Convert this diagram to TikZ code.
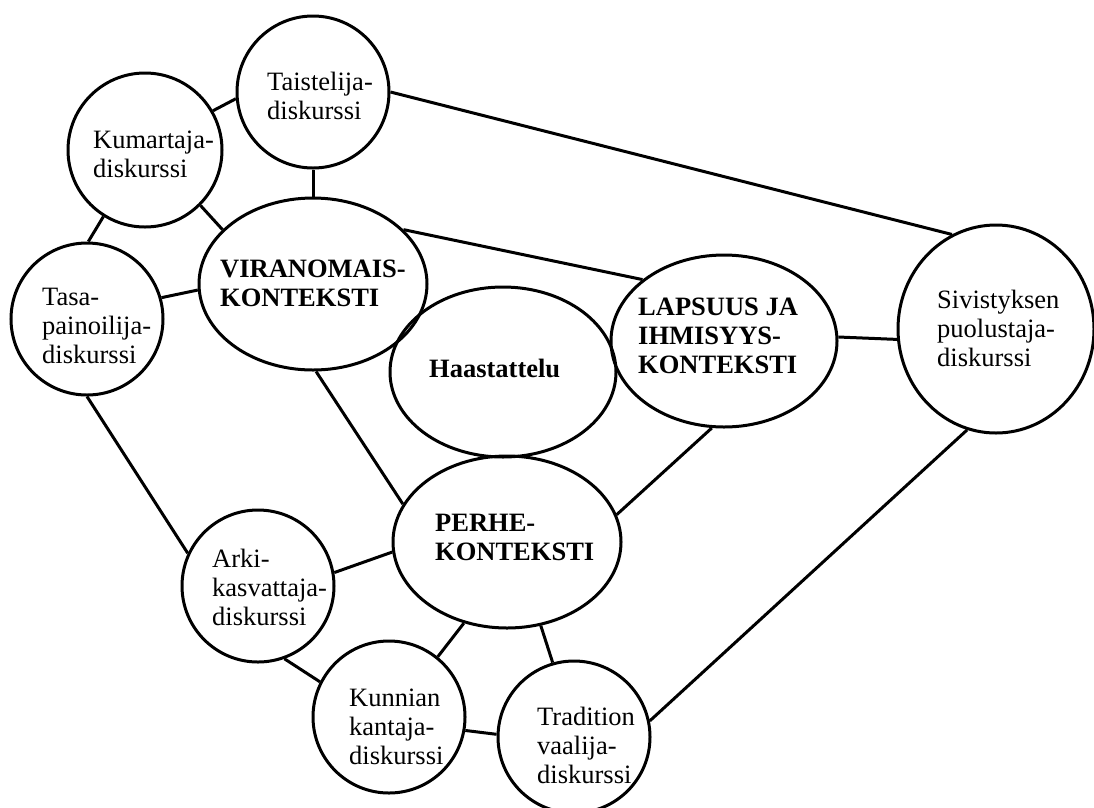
\documentclass[tikz,border=0pt]{standalone}
\usepackage{fontspec}
\setmainfont{Liberation Serif}
\usetikzlibrary{shapes.geometric}
\begin{document}
\begin{tikzpicture}[x=1pt,y=-1pt,
  bubble/.style={draw=black,line width=3pt,ellipse,inner sep=0pt},
  txt/.style={anchor=west,align=left,inner sep=0pt,font=\fontsize{26.5}{29}\selectfont},
  btxt/.style={anchor=west,align=left,inner sep=0pt,font=\fontsize{26.5}{29}\selectfont\bfseries},
  link/.style={line width=3pt}]
\useasboundingbox (0,0) rectangle (1094,807);
\clip (0,0) rectangle (1094,807);

% contexts and discourses
\node[bubble,minimum width=152pt,minimum height=152pt] (tai) at (313,92) {};
\node[bubble,minimum width=154pt,minimum height=154pt] (kum) at (145,150) {};
\node[bubble,minimum width=152pt,minimum height=152pt] (tas) at (87,319) {};
\node[bubble,minimum width=228pt,minimum height=172pt] (vir) at (313,284) {};
\node[bubble,minimum width=226pt,minimum height=170pt] (haa) at (503,372) {};
\node[bubble,minimum width=226pt,minimum height=172pt] (lap) at (724,341) {};
\node[bubble,minimum width=196pt,minimum height=208pt] (siv) at (996,329) {};
\node[bubble,minimum width=228pt,minimum height=172pt] (per) at (507,542) {};
\node[bubble,minimum width=152pt,minimum height=152pt] (ark) at (258,586) {};
\node[bubble,minimum width=152pt,minimum height=152pt] (kun) at (389,717) {};
\node[bubble,minimum width=152pt,minimum height=152pt] (tra) at (574,737) {};

% labels
\node[txt]  (taiT) at (267,96)  {Taistelija-\\diskurssi};
\node[txt]  (kumT) at (93,154)  {Kumartaja-\\diskurssi};
\node[txt]  (tasT) at (42,326)  {Tasa-\\painoilija-\\diskurssi};
\node[btxt] (virT) at (220,283) {VIRANOMAIS-\\KONTEKSTI};
\node[btxt] (haaT) at (429,368.5) {Haastattelu};
\node[btxt] (lapT) at (638,336) {LAPSUUS JA\\IHMISYYS-\\KONTEKSTI};
\node[txt]  (sivT) at (937,328) {Sivistyksen\\puolustaja-\\diskurssi};
\node[btxt] (perT) at (435,537) {PERHE-\\KONTEKSTI};
\node[txt]  (arkT) at (212,587) {Arki-\\kasvattaja-\\diskurssi};
\node[txt]  (kunT) at (349,727) {Kunnian\\kantaja-\\diskurssi};
\node[txt]  (traT) at (537,745) {Tradition\\vaalija-\\diskurssi};

% connections
\draw[link] (kum.30)   -- (tai.185);
\draw[link] (tai.0)    -- (siv.115);
\draw[link] (tai.south)-- (vir.north);
\draw[link] (kum.-45)  -- (vir.149);
\draw[link] (kum.-122) -- (tas.89);
\draw[link] (tas.16)   -- (vir.183);
\draw[link] (vir.31)   -- (lap.143);
\draw[link] (lap.2)    -- (siv.186);
\draw[link] (vir.-88)  -- (per.160);
\draw[link] (tas.-90)  -- (ark.155);
\draw[link] (ark.10)   -- (per.185);
\draw[link] (lap.-98)  -- (per.14);
\draw[link] (siv.-106) -- (tra.12);
\draw[link] (ark.-70)  -- (kun.153);
\draw[link] (per.-118) -- (kun.51);
\draw[link] (per.-68)  -- (tra.106);
\draw[link] (kun.-10)  -- (tra.178);
\end{tikzpicture}
\end{document}
